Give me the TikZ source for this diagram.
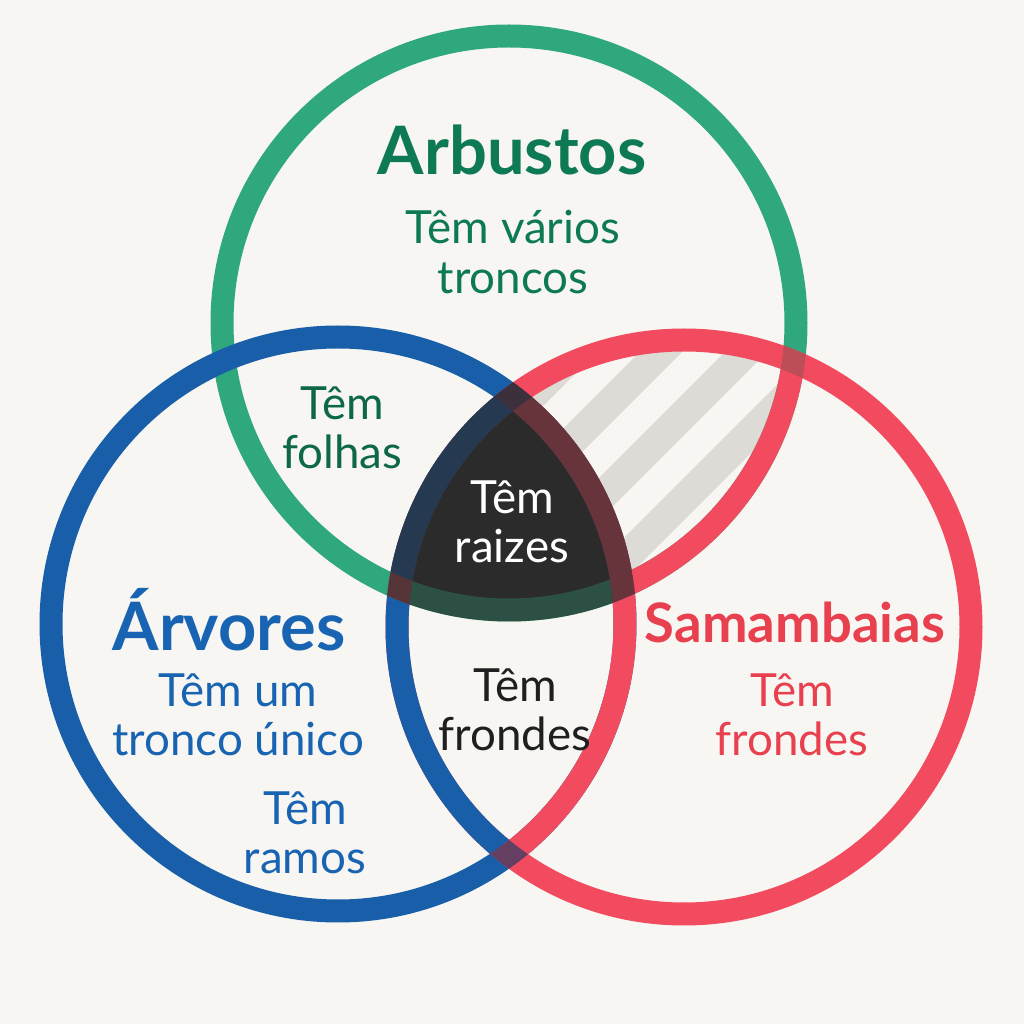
\documentclass[tikz,border=0pt]{standalone}
\usepackage{fontspec}
\setmainfont{Lato}
\definecolor{bgcol}{HTML}{F7F6F2}
\definecolor{ringgreen}{HTML}{2FA87E}
\definecolor{ringblue}{HTML}{185EA8}
\definecolor{ringred}{HTML}{F24A5E}
\definecolor{txtgreen}{HTML}{0E7A55}
\definecolor{txtblue}{HTML}{1864B2}
\definecolor{txtred}{HTML}{E8404F}
\definecolor{hatchgray}{HTML}{DCDBD5}
\definecolor{coredark}{HTML}{2B2B2B}

\begin{document}
\begin{tikzpicture}[
    ring/.style={line width=0.23cm},
    title/.style={font=\fontsize{19}{21}\selectfont\bfseries},
    lbl/.style={font=\fontsize{13}{14}\selectfont, align=center},
]
    % Background
    \fill[bgcol] (0,0) rectangle (10.24,10.24);
    \useasboundingbox (0,0) rectangle (10.24,10.24);

    % Circle centres
    \coordinate (G) at (5.09,7.01);
    \coordinate (B) at (3.38,4.00);
    \coordinate (R) at (6.84,3.97);
    \def\rad{2.87}
    \def\radout{2.985}
    \def\radin{2.755}

    % Hatched part (shrubs and ferns only)
    \begin{scope}
        \clip (G) circle (\rad);
        \clip (R) circle (\rad);
        \foreach \c in {0.96,0.11,-0.74,-1.59,-2.44,-3.29}
            \draw[hatchgray, line width=0.30cm] (3,3+\c) -- (10,10+\c);
    \end{scope}
    \fill[bgcol] (B) circle (\rad);

    % Core where all three meet
    \begin{scope}
        \clip (G) circle (\rad);
        \clip (B) circle (\rad);
        \fill[coredark] (R) circle (\rad);
    \end{scope}

    % Rings
    \draw[ring, ringgreen] (G) circle (\rad);
    \draw[ring, ringblue] (B) circle (\rad);
    \draw[ring, ringred] (R) circle (\rad);

    % Arcs inside the lenses swap colour
    \begin{scope}
        \clip (B) circle (\rad);
        \draw[ring, ringblue] (R) circle (\rad);
    \end{scope}
    \begin{scope}
        \clip (R) circle (\rad);
        \draw[ring, ringred] (B) circle (\rad);
    \end{scope}
    \begin{scope}
        \clip (R) circle (\rad);
        \begin{scope}[even odd rule]
            \clip (0,0) rectangle (10.24,10.24) (B) circle (\rad);
            \draw[ring, ringred] (G) circle (\rad);
        \end{scope}
    \end{scope}

    % Ring crossings
    \begin{scope}[even odd rule]
        \clip (B) circle (\radout) (B) circle (\radin);
        \clip (R) circle (\radout) (R) circle (\radin);
        \fill[ringred!50!ringblue!75!black] (0,0) rectangle (10.24,10.24);
    \end{scope}
    \begin{scope}[even odd rule]
        \clip (G) circle (\radout) (G) circle (\radin);
        \clip (R) circle (\radout) (R) circle (\radin);
        \fill[ringred!85!ringgreen!88!black] (0,0) rectangle (10.24,10.24);
    \end{scope}

    % Darken ring bands over the core
    \begin{scope}
        \clip (G) circle (\radout);
        \clip (B) circle (\radout);
        \fill[coredark, opacity=0.7] (R) circle (\radout);
    \end{scope}

    % Labels
    \node[title, txtgreen] (arbustos) at (5.12,8.74) {Arbustos};
    \node[lbl, txtgreen] (varios) at (5.13,7.72) {Têm vários\\troncos};
    \node[lbl, txtgreen!85!black] (folhas) at (3.42,5.96) {Têm\\folhas};
    \node[lbl, white] (raizes) at (5.12,5.02) {Têm\\raizes};
    \node[title, txtblue] (arvores) at (2.29,4.04) {Árvores};
    \node[lbl, txtblue] (unico) at (2.38,3.09) {Têm um\\tronco único};
    \node[lbl, txtblue] (ramos) at (3.05,1.91) {Têm\\ramos};
    \node[lbl, black!88] (frondesmeio) at (5.15,3.14) {Têm\\frondes};
    \node[title, font=\fontsize{15.5}{17}\selectfont\bfseries, txtred] (samambaias) at (7.95,4.02) {Samambaias};
    \node[lbl, txtred] (frondes) at (7.92,3.09) {Têm\\frondes};
\end{tikzpicture}
\end{document}
